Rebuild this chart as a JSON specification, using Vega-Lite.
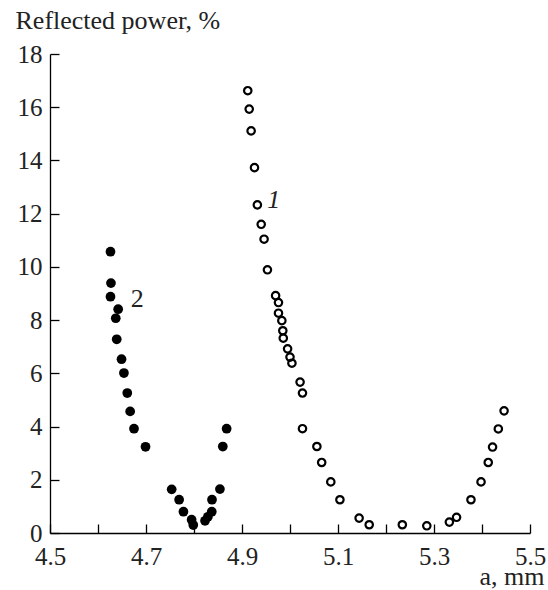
{
  "$schema": "https://vega.github.io/schema/vega-lite/v6.json",
  "width": 480,
  "height": 479,
  "autosize": {"type": "none"},
  "padding": {"left": 50, "top": 54, "right": 18, "bottom": 57},
  "background": "white",
  "config": {
    "view": {"stroke": null},
    "font": "Liberation Serif",
    "axis": {
      "domainColor": "black",
      "domainWidth": 1.3,
      "tickColor": "black",
      "tickWidth": 1.3,
      "tickSize": -9,
      "labelFont": "Liberation Serif",
      "labelFontSize": 25,
      "labelColor": "#222",
      "titleFont": "Liberation Serif",
      "titleFontSize": 26,
      "titleFontWeight": "normal",
      "titleColor": "#222",
      "grid": false,
      "labelFlush": false,
      "labelOverlap": false
    }
  },
  "datasets": {
    "s1": [
      {"a": 4.912, "r": 16.62}, {"a": 4.915, "r": 15.93}, {"a": 4.919, "r": 15.11},
      {"a": 4.926, "r": 13.73}, {"a": 4.932, "r": 12.33}, {"a": 4.940, "r": 11.60},
      {"a": 4.946, "r": 11.04}, {"a": 4.953, "r": 9.89}, {"a": 4.970, "r": 8.92},
      {"a": 4.976, "r": 8.66}, {"a": 4.976, "r": 8.26}, {"a": 4.983, "r": 7.98},
      {"a": 4.985, "r": 7.60}, {"a": 4.986, "r": 7.32}, {"a": 4.995, "r": 6.92},
      {"a": 5.000, "r": 6.61}, {"a": 5.004, "r": 6.38}, {"a": 5.021, "r": 5.67},
      {"a": 5.026, "r": 5.26}, {"a": 5.026, "r": 3.92}, {"a": 5.056, "r": 3.25},
      {"a": 5.066, "r": 2.65}, {"a": 5.085, "r": 1.92}, {"a": 5.104, "r": 1.25},
      {"a": 5.144, "r": 0.56}, {"a": 5.165, "r": 0.31}, {"a": 5.234, "r": 0.31},
      {"a": 5.285, "r": 0.27}, {"a": 5.332, "r": 0.41}, {"a": 5.347, "r": 0.59},
      {"a": 5.377, "r": 1.25}, {"a": 5.398, "r": 1.92}, {"a": 5.413, "r": 2.65},
      {"a": 5.422, "r": 3.23}, {"a": 5.434, "r": 3.91}, {"a": 5.446, "r": 4.59}
    ],
    "s2": [
      {"a": 4.626, "r": 10.57}, {"a": 4.627, "r": 9.39}, {"a": 4.626, "r": 8.88},
      {"a": 4.642, "r": 8.41}, {"a": 4.637, "r": 8.07}, {"a": 4.639, "r": 7.28},
      {"a": 4.649, "r": 6.53}, {"a": 4.654, "r": 6.01}, {"a": 4.661, "r": 5.26},
      {"a": 4.667, "r": 4.57}, {"a": 4.675, "r": 3.92}, {"a": 4.699, "r": 3.24},
      {"a": 4.7535, "r": 1.64}, {"a": 4.769, "r": 1.25}, {"a": 4.778, "r": 0.80},
      {"a": 4.795, "r": 0.50}, {"a": 4.7985, "r": 0.30}, {"a": 4.823, "r": 0.46},
      {"a": 4.829, "r": 0.61}, {"a": 4.837, "r": 0.80}, {"a": 4.8375, "r": 1.25},
      {"a": 4.854, "r": 1.65}, {"a": 4.860, "r": 3.25}, {"a": 4.868, "r": 3.92}
    ],
    "label2": [{"a": 4.682, "r": 8.8, "t": "2"}],
    "label1": [{"a": 4.966, "r": 12.5, "t": "1"}]
  },
  "layer": [
    {
      "data": {"name": "s2"},
      "mark": {"type": "point", "filled": true, "color": "black", "size": 95, "opacity": 1},
      "encoding": {
        "x": {
          "field": "a", "type": "quantitative",
          "scale": {"domain": [4.5, 5.5], "nice": false, "zero": false},
          "axis": {
            "values": [4.5, 4.6, 4.7, 4.8, 4.9, 5.0, 5.1, 5.2, 5.3, 5.4, 5.5],
            "format": ".1f",
            "labelExpr": "round(datum.value*10) % 2 == 1 ? datum.label : ''",
            "labelPadding": 20,
            "title": "a, mm",
            "titleAnchor": "end",
            "titleAlign": "right",
            "titleX": 494,
            "titleY": 51,
            "titleBaseline": "alphabetic"
          }
        },
        "y": {
          "field": "r", "type": "quantitative",
          "scale": {"domain": [0, 18], "nice": false},
          "axis": {
            "values": [0, 2, 4, 6, 8, 10, 12, 14, 16, 18],
            "labelPadding": 17,
            "title": "Reflected power, %",
            "titleAngle": 0,
            "titleAlign": "left",
            "titleBaseline": "alphabetic",
            "titleX": -35,
            "titleY": -26
          }
        }
      }
    },
    {
      "data": {"name": "s1"},
      "mark": {"type": "point", "filled": false, "color": "black", "size": 55, "strokeWidth": 2.2, "opacity": 1},
      "encoding": {
        "x": {"field": "a", "type": "quantitative"},
        "y": {"field": "r", "type": "quantitative"}
      }
    },
    {
      "data": {"name": "label2"},
      "mark": {"type": "text", "font": "Liberation Serif", "fontSize": 26, "color": "#222", "align": "center", "baseline": "middle"},
      "encoding": {
        "x": {"field": "a", "type": "quantitative"},
        "y": {"field": "r", "type": "quantitative"},
        "text": {"field": "t"}
      }
    },
    {
      "data": {"name": "label1"},
      "mark": {"type": "text", "font": "Liberation Serif", "fontSize": 26, "fontStyle": "italic", "color": "#222", "align": "center", "baseline": "middle"},
      "encoding": {
        "x": {"field": "a", "type": "quantitative"},
        "y": {"field": "r", "type": "quantitative"},
        "text": {"field": "t"}
      }
    }
  ]
}
